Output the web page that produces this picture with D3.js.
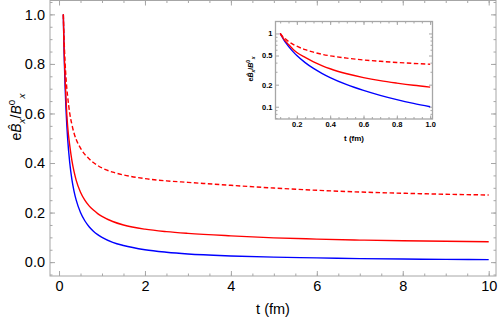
<!DOCTYPE html>
<html>
<head>
<meta charset="utf-8">
<script src="https://cdn.jsdelivr.net/npm/d3@7"></script>
<style>
  body { margin: 0; background: #fff; }
  text { font-family: "Liberation Sans", Arial, sans-serif; }
</style>
</head>
<body>
<div id="graphWrapper"></div>
<script>
var times = [0.1, 0.11, 0.12, 0.14, 0.16, 0.18, 0.2, 0.25, 0.3, 0.35, 0.4, 0.5, 0.6, 0.7, 0.8, 0.9, 1,
             1.25, 1.5, 2, 2.5, 3, 4, 5, 6, 7, 8, 9, 10];
var blueValues = [1, 0.91, 0.833, 0.714, 0.625, 0.556, 0.5, 0.4, 0.333, 0.286, 0.25, 0.2, 0.167, 0.143, 0.125, 0.111, 0.1,
                  0.08, 0.067, 0.05, 0.04, 0.033, 0.025, 0.02, 0.017, 0.014, 0.0125, 0.011, 0.01];
var redValues = [1, 0.92, 0.85, 0.75, 0.67, 0.6, 0.55, 0.47, 0.41, 0.365, 0.33, 0.282, 0.25, 0.227, 0.21, 0.196, 0.185,
                 0.164, 0.15, 0.133, 0.123, 0.116, 0.106, 0.098, 0.093, 0.089, 0.086, 0.084, 0.082];
var redDashedValues = [1, 0.94, 0.89, 0.81, 0.75, 0.705, 0.67, 0.6, 0.555, 0.52, 0.495, 0.46, 0.435, 0.417, 0.402, 0.39, 0.38,
                       0.363, 0.352, 0.337, 0.328, 0.322, 0.31, 0.299, 0.29, 0.283, 0.278, 0.274, 0.271];

var mainXTicks = [0, 2, 4, 6, 8, 10];
var mainYTicks = [0, 0.2, 0.4, 0.6, 0.8, 1.0];
var insetXTicks = [0.2, 0.4, 0.6, 0.8, 1.0];
var insetYTicks = [0.1, 0.2, 0.5, 1];
var insetYMinor = [0.07, 0.08, 0.09, 0.3, 0.4, 0.6, 0.7, 0.8, 0.9];

var series = [
    {values: blueValues, color: "#0000ff", dash: null},
    {values: redValues, color: "#ff0000", dash: null},
    {values: redDashedValues, color: "#ff0000", dash: "4.5,2.5"}
];

var w = 498, h = 319;
var frameColor = "#a6a6a6";

var svg = d3.select("#graphWrapper").append("svg")
    .attr("width", w)
    .attr("height", h);

function range(a, b, step) {
    var out = [];
    for (var v = a; v <= b + 1e-9; v += step) out.push(+v.toFixed(4));
    return out;
}

function drawFrame(g, x, y, xMajor, xMinor, yMajor, yMinor, opts) {
    var x0 = x.range()[0], x1 = x.range()[1];
    var y0 = y.range()[0], y1 = y.range()[1];

    g.append("rect")
        .attr("x", x0).attr("y", y1)
        .attr("width", x1 - x0).attr("height", y0 - y1)
        .attr("fill", "#fff");

    var bottom = g.append("g").attr("transform", "translate(0," + y0 + ")")
        .call(d3.axisBottom(x).tickValues(xMajor).tickSize(-opts.major).tickPadding(opts.pad).tickFormat(opts.xFormat));
    var bottomMinor = g.append("g").attr("transform", "translate(0," + y0 + ")")
        .call(d3.axisBottom(x).tickValues(xMinor).tickSize(-opts.minor).tickFormat(""));
    var top = g.append("g").attr("transform", "translate(0," + y1 + ")")
        .call(d3.axisTop(x).tickValues(xMajor).tickSize(-opts.major).tickFormat(""));
    var topMinor = g.append("g").attr("transform", "translate(0," + y1 + ")")
        .call(d3.axisTop(x).tickValues(xMinor).tickSize(-opts.minor).tickFormat(""));

    var left = g.append("g").attr("transform", "translate(" + x0 + ",0)")
        .call(d3.axisLeft(y).tickValues(yMajor).tickSize(-opts.major).tickPadding(opts.pad).tickFormat(opts.yFormat));
    var leftMinor = g.append("g").attr("transform", "translate(" + x0 + ",0)")
        .call(d3.axisLeft(y).tickValues(yMinor).tickSize(-opts.minor).tickFormat(""));
    var right = g.append("g").attr("transform", "translate(" + x1 + ",0)")
        .call(d3.axisRight(y).tickValues(yMajor).tickSize(-opts.major).tickFormat(""));
    var rightMinor = g.append("g").attr("transform", "translate(" + x1 + ",0)")
        .call(d3.axisRight(y).tickValues(yMinor).tickSize(-opts.minor).tickFormat(""));

    [bottom, bottomMinor, top, topMinor, left, leftMinor, right, rightMinor].forEach(function(a){
        a.select(".domain").remove();
        a.selectAll("line").attr("stroke", frameColor);
        a.selectAll("text")
            .attr("fill", "#000")
            .style("font-size", opts.fontSize)
            .style("font-weight", opts.weight)
            .style("font-family", "'Liberation Sans', Arial, sans-serif");
    });

    g.append("rect")
        .attr("x", x0).attr("y", y1)
        .attr("width", x1 - x0).attr("height", y0 - y1)
        .attr("fill", "none")
        .attr("stroke", frameColor)
        .attr("stroke-width", opts.frameWidth);
}

function drawCurves(g, x, y) {
    var clipId = "clip" + Math.round(x.range()[0]);
    g.append("clipPath").attr("id", clipId)
        .append("rect")
        .attr("x", x.range()[0]).attr("y", y.range()[1])
        .attr("width", x.range()[1] - x.range()[0])
        .attr("height", y.range()[0] - y.range()[1]);

    var line = d3.line()
        .x(function(d){ return x(d[0]); })
        .y(function(d){ return y(d[1]); })
        .curve(d3.curveMonotoneX);

    series.forEach(function(s){
        var pts = times.map(function(t, i){ return [t, s.values[i]]; })
            .filter(function(d){ return d[0] <= x.domain()[1] + 1e-9; });
        g.append("path")
            .datum(pts)
            .attr("clip-path", "url(#" + clipId + ")")
            .attr("fill", "none")
            .attr("stroke", s.color)
            .attr("stroke-width", 1.4)
            .attr("stroke-dasharray", s.dash)
            .attr("d", line);
    });
}

function yLabel(g, x, y, size, weight) {
    var t = g.append("text")
        .attr("transform", "translate(" + x + "," + y + ") rotate(-90)")
        .attr("text-anchor", "middle")
        .style("font-size", size + "px")
        .style("font-weight", weight)
        .attr("fill", "#000");
    t.append("tspan").text("e");
    t.append("tspan").style("font-style", "italic").text("B\u0302");
    t.append("tspan").attr("dy", size * 0.25).style("font-size", (size * 0.7) + "px").style("font-style", "italic").text("x");
    t.append("tspan").attr("dy", -size * 0.25).text("/");
    t.append("tspan").style("font-style", "italic").text("B");
    t.append("tspan").attr("dy", -size * 0.4).style("font-size", (size * 0.7) + "px").text("0");
    t.append("tspan").attr("dy", size * 0.65).attr("dx", size * 0.1).style("font-size", (size * 0.7) + "px").style("font-style", "italic").text("x");
}

// main plot
var x = d3.scaleLinear().domain([-0.21, 10.17]).range([50, 496]);
var y = d3.scaleLinear().domain([-0.056, 1.056]).range([276, 0.5]);

var chart = svg.append("g").classed("display", true);
drawFrame(chart, x, y, mainXTicks, range(0, 10, 0.5), mainYTicks, range(-0.05, 1.05, 0.05), {
    major: 5, minor: 2.5, pad: 5, fontSize: "14.5px", weight: "normal", frameWidth: 1,
    xFormat: d3.format("d"), yFormat: d3.format(".1f")
});
drawCurves(chart, x, y);

chart.append("text")
    .attr("x", 273)
    .attr("y", 314)
    .attr("text-anchor", "middle")
    .style("font-size", "14.5px")
    .attr("fill", "#000")
    .text("t (fm)");
yLabel(chart, 21, 117, 14, "normal");

// inset
var xi = d3.scaleLinear().domain([0.072, 1.014]).range([275.5, 432.5]);
var yi = d3.scaleLog().domain([0.068, 1.456]).range([119, 21.5]);

var inset = svg.append("g").classed("inset", true);
drawFrame(inset, xi, yi, insetXTicks, range(0.1, 1.0, 0.05), insetYTicks, insetYMinor, {
    major: 3.5, minor: 2, pad: 3, fontSize: "7.5px", weight: "bold", frameWidth: 1.3,
    xFormat: d3.format(".1f"), yFormat: function(d){ return String(d); }
});
drawCurves(inset, xi, yi);

inset.append("text")
    .attr("x", 354)
    .attr("y", 141)
    .attr("text-anchor", "middle")
    .style("font-size", "8px")
    .style("font-weight", "bold")
    .attr("fill", "#000")
    .text("t (fm)");
yLabel(inset, 253, 69, 7, "bold");
</script>
</body>
</html>
